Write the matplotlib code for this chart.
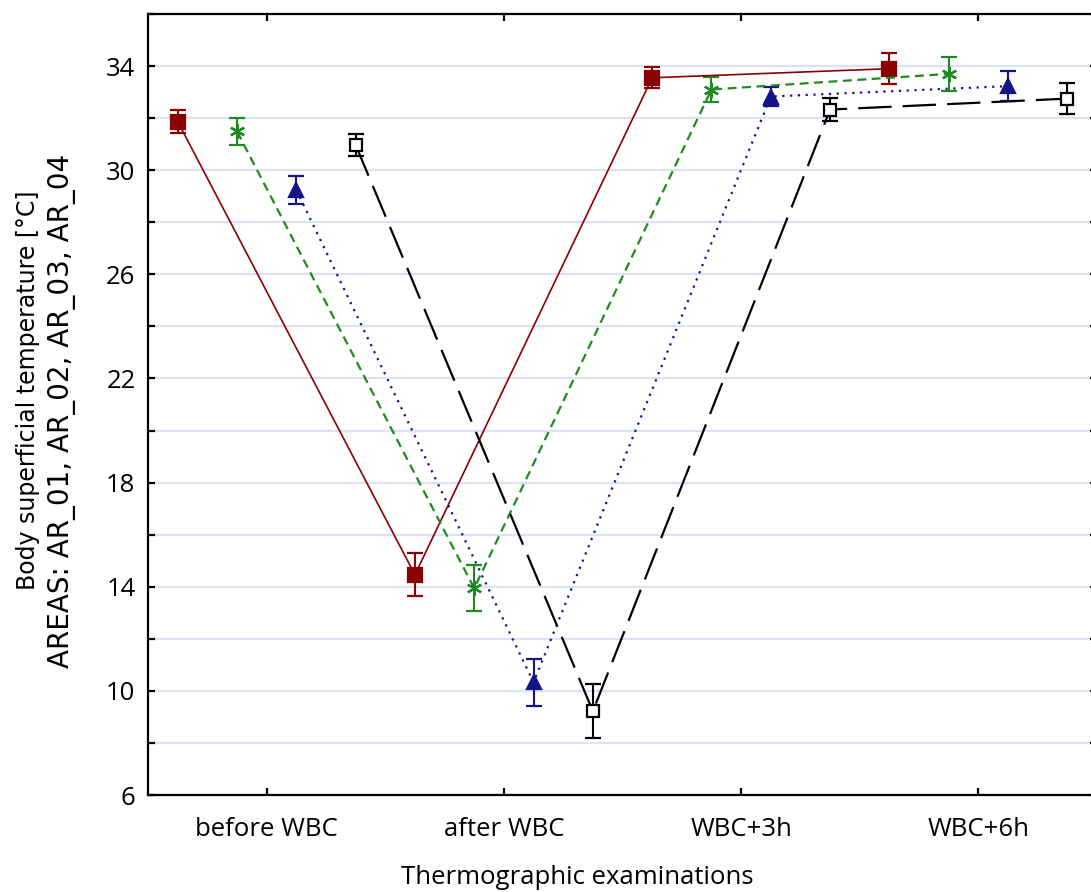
import matplotlib
matplotlib.use("Agg")
import matplotlib.pyplot as plt
import numpy as np
from matplotlib.ticker import MultipleLocator

# ---- data: mean body surface temperature per area with error ----
exams = ["before WBC", "after WBC", "WBC+3h", "WBC+6h"]

ar01 = [31.87, 14.46, 33.55, 33.90]
ar01_err = [0.43, 0.83, 0.40, 0.60]
ar02 = [31.49, 13.94, 33.10, 33.70]
ar02_err = [0.52, 0.88, 0.48, 0.64]
ar03 = [29.24, 10.33, 32.83, 33.23]
ar03_err = [0.54, 0.91, 0.36, 0.58]
ar04 = [30.97, 9.22, 32.33, 32.75]
ar04_err = [0.42, 1.04, 0.45, 0.60]

fig = plt.figure(figsize=(10.91, 8.92), dpi=100)
ax = fig.add_axes([0.1357, 0.1087, 0.8698, 0.8756])

x = np.arange(len(exams))

# series: values, errors, offset, color, linestyle, marker, marker face, size, width
series = [
    (ar01, ar01_err, -0.375, "#8b0000", "-", "s", "#8b0000", 9.5, 1.2),
    (ar02, ar02_err, -0.125, "#1f8a1f", (0, (4, 2.5)), (6, 2, 0), "#1f8a1f", 11, 1.6),
    (ar03, ar03_err, 0.125, "#14148a", (0, (1, 2.5)), "^", "#14148a", 10, 1.6),
    (ar04, ar04_err, 0.375, "black", (0, (15, 5)), "s", "white", 9, 1.6),
]

for vals, err, off, col, ls, mk, mfc, ms, lw in series:
    ax.errorbar(x + off, vals, yerr=err, color=col, ecolor=col, linestyle=ls,
                linewidth=lw, marker=mk, markersize=ms, markerfacecolor=mfc,
                markeredgecolor=col, markeredgewidth=1.6, elinewidth=1.5,
                capsize=5.5, capthick=1.5, zorder=3)

ax.set_xlim(-0.5, 3.5)
ax.set_ylim(6, 36)
ax.set_xticks(x)
ax.set_xticklabels(exams)
ax.yaxis.set_minor_locator(MultipleLocator(2))
ax.set_yticks([6, 10, 14, 18, 22, 26, 30, 34])

ax.grid(axis="y", which="both", color="#dde2f2", linewidth=1.6, zorder=0)
ax.set_axisbelow(True)

for s in ax.spines.values():
    s.set_linewidth(1.6)

tick_font = {"family": "Open Sans", "size": 18.5}
ax.tick_params(axis="both", which="both", direction="in", length=5, width=1.6,
               top=True, right=True)
ax.tick_params(axis="x", pad=16)
ax.tick_params(axis="y", pad=9)
for lab in ax.get_xticklabels() + ax.get_yticklabels():
    lab.set_fontfamily("Open Sans")
    lab.set_fontsize(18.5)

fig.text(0.5295, 0.0157, "Thermographic examinations", ha="center", va="center",
         **tick_font)

fig.text(0.026, 0.5626, "Body superficial temperature [°C]", rotation=90,
         ha="center", va="center", family="DejaVu Sans", fontsize=17)
fig.text(0.057, 0.5395, "AREAS: AR_01, AR_02, AR_03, AR_04", rotation=90,
         ha="center", va="center", family="DejaVu Sans", fontsize=20)

fig.savefig("out.png", dpi=100)
